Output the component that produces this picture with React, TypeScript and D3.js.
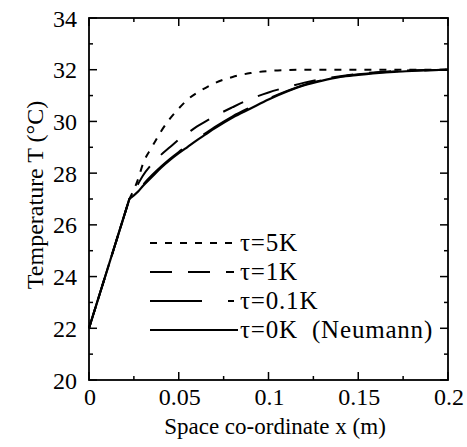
import React, { useRef, useEffect } from 'react'
import * as d3 from 'd3'

// x (m) sample positions shared by all curves
const xs = [0, 0.0225, 0.0275, 0.03, 0.035, 0.04, 0.045, 0.05, 0.055, 0.06, 0.065, 0.07, 0.08, 0.09, 0.1, 0.11, 0.12, 0.13, 0.14, 0.15, 0.16, 0.17, 0.18, 0.19, 0.2]

// temperatures (°C)
const tau5K = [22, 27, 27.8, 28.35, 29.0, 29.6, 30.1, 30.5, 30.85, 31.1, 31.3, 31.48, 31.72, 31.87, 31.95, 31.99, 32.0, 32.0, 32.0, 32.0, 32.0, 32.0, 32.0, 32.0, 32.0]
const tau1K = [22, 27, 27.6, 27.9, 28.35, 28.7, 29.0, 29.3, 29.55, 29.8, 30.0, 30.2, 30.55, 30.87, 31.12, 31.32, 31.5, 31.64, 31.75, 31.84, 31.9, 31.95, 31.98, 31.99, 32.0]
const tau01K = [22, 27, 27.35, 27.55, 27.92, 28.25, 28.55, 28.82, 29.07, 29.32, 29.55, 29.78, 30.2, 30.55, 30.88, 31.17, 31.42, 31.6, 31.73, 31.82, 31.88, 31.93, 31.96, 31.98, 32.0]
const tau0K = [22, 27, 27.3, 27.5, 27.85, 28.2, 28.5, 28.77, 29.02, 29.27, 29.5, 29.73, 30.15, 30.5, 30.85, 31.15, 31.4, 31.58, 31.72, 31.8, 31.87, 31.92, 31.95, 31.98, 32.0]

const legendLabels = ['τ=5K', 'τ=1K', 'τ=0.1K', 'τ=0K  (Neumann)']
const dashes = ['7,8', '22,16', '52,26', null]
const seriesList = [tau5K, tau1K, tau01K, tau0K]

const xTicks = [0, 0.05, 0.1, 0.15, 0.2]
const xTickLabels = ['0', '0.05', '0.1', '0.15', '0.2']
const yTicks = [20, 22, 24, 26, 28, 30, 32, 34]

export default function App() {
  const svgRef = useRef<SVGSVGElement | null>(null)

  useEffect(() => {
    if (!svgRef.current) return
    const svg = d3.select(svgRef.current)
    svg.selectAll('*').remove()
    const font = 'Liberation Serif, DejaVu Serif, serif'

    const left = 89, right = 448, top = 18, bottom = 380
    const x = d3.scaleLinear().domain([0, 0.2]).range([left, right])
    const y = d3.scaleLinear().domain([20, 34]).range([bottom, top])

    const g = svg.append('g').attr('font-family', font).attr('font-size', 24)

    // frame
    g.append('rect')
      .attr('x', left).attr('y', top)
      .attr('width', right - left).attr('height', bottom - top)
      .attr('fill', 'none').attr('stroke', '#000').attr('stroke-width', 1.8)

    // ticks (inward, all four sides)
    const xMinor = d3.range(0.025, 0.2, 0.05)
    const yMinor = d3.range(21, 34, 2)
    const tickLine = (x1: number, y1: number, x2: number, y2: number) =>
      g.append('line').attr('x1', x1).attr('y1', y1).attr('x2', x2).attr('y2', y2)
        .attr('stroke', '#000').attr('stroke-width', 1.5)
    xTicks.forEach(t => { tickLine(x(t), bottom, x(t), bottom - 8); tickLine(x(t), top, x(t), top + 8) })
    xMinor.forEach(t => { tickLine(x(t), bottom, x(t), bottom - 4); tickLine(x(t), top, x(t), top + 4) })
    yTicks.forEach(t => { tickLine(left, y(t), left + 8, y(t)); tickLine(right, y(t), right - 8, y(t)) })
    yMinor.forEach(t => { tickLine(left, y(t), left + 4, y(t)); tickLine(right, y(t), right - 4, y(t)) })

    // tick labels
    xTicks.forEach((t, i) => {
      g.append('text').attr('x', x(t) + 1).attr('y', 405)
        .attr('text-anchor', 'middle')
        .text(xTickLabels[i])
    })
    yTicks.forEach(t => {
      g.append('text').attr('x', 77).attr('y', y(t) + 8.5)
        .attr('text-anchor', 'end')
        .text(String(t))
    })

    // axis titles
    g.append('text').attr('x', 275).attr('y', 434)
      .attr('text-anchor', 'middle')
      .attr('font-size', 23)
      .text('Space co-ordinate x (m)')
    g.append('text')
      .attr('transform', 'translate(43,195) rotate(-90)')
      .attr('text-anchor', 'middle')
      .text('Temperature T (°C)')

    // curves: straight segment up to the kink, smooth afterwards
    const straight = d3.line<number>().x((d, i) => x(xs[i])).y(d => y(d))
    const smooth = d3.line<number>()
      .x((d, i) => x(xs[i + 1]))
      .y(d => y(d))
      .curve(d3.curveMonotoneX)

    seriesList.forEach((s, i) => {
      const d = (straight(s.slice(0, 2)) || '') + (smooth(s.slice(1)) || '').replace(/^M[^A-Za-z]*/, '')
      g.append('path')
        .attr('d', d)
        .attr('fill', 'none')
        .attr('stroke', '#000')
        .attr('stroke-width', i === 3 ? 2.2 : 2)
        .attr('stroke-dasharray', dashes[i])
    })

    // legend
    legendLabels.forEach((label, i) => {
      const ly = 243 + i * 29
      g.append('line')
        .attr('x1', 150).attr('y1', ly).attr('x2', i === 3 ? 238 : 234).attr('y2', ly)
        .attr('stroke', '#000').attr('stroke-width', 2)
        .attr('stroke-dasharray', dashes[i])
      g.append('text').attr('x', 240).attr('y', ly + 8)
        .attr('font-size', 25)
        .attr('letter-spacing', 0.8)
        .style('white-space', 'pre')
        .text(label)
    })
  }, [])

  return (
    <svg ref={svgRef} width={467} height={447}
      style={{ position: 'absolute', left: 0, top: 0, background: '#fff' }} />
  )
}
